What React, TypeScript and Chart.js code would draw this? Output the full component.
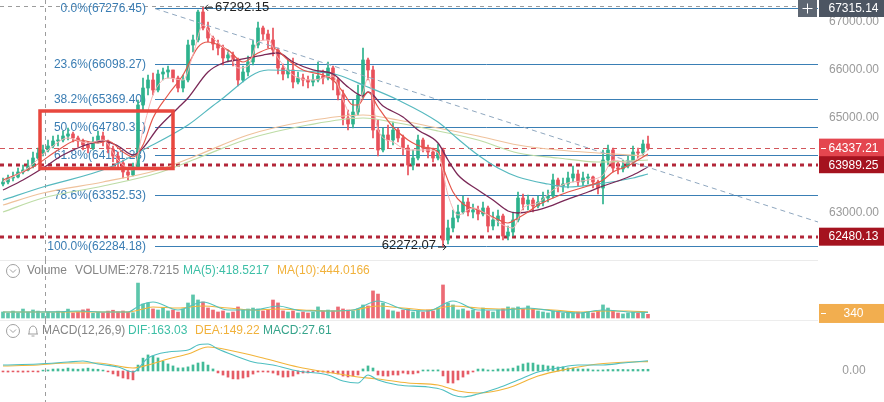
import React, { useEffect, useRef } from "react";
import { Chart, registerables } from "chart.js";

Chart.register(...registerables);

const FONT = '"Liberation Sans", Arial, Helvetica, sans-serif';

// ================= DATA =================
const firstOpen = 63585;
const closes = [
  63627, 63711, 63732, 63837, 63879, 63962, 64130, 64235, 64298, 64382,
  64487, 64508, 64592, 64634, 64550, 64487, 64403, 64340, 64466, 64592,
  64487, 64319, 64172, 64025, 63837, 63774, 63941, 65242, 65598, 65766,
  65556, 65892, 65934, 65976, 65808, 65598, 65766, 66500, 66605, 67192,
  66857, 66647, 66521, 66437, 66228, 66290, 66186, 65766, 65934, 66144,
  66500, 66857, 66731, 66605, 66395, 66018, 65892, 65976, 65724, 65808,
  65766, 65724, 65766, 65850, 65808, 66018, 65766, 65452, 64969, 64843,
  65095, 65452, 66186, 65976, 64717, 64298, 64613, 64508, 64717, 64550,
  64340, 63983, 64130, 64508, 64340, 64256, 64130, 64298, 62410, 62662,
  62872, 62998, 63207, 62998, 63040, 62956, 63082, 62704, 62830, 62914,
  62494, 62578, 62830, 63291, 63165, 63249, 63124, 63207, 63291, 63333,
  63669, 63543, 63585, 63711, 63795, 63627, 63711, 63732, 63627, 63501,
  64088, 64298, 63920, 63900, 63962, 64046, 64256, 64235, 64424, 64337.21,
];
const highs = [
  63711, 63774, 63837, 63920, 63983, 64088, 64256, 64340, 64403, 64508,
  64592, 64613, 64696, 64759, 64676, 64592, 64529, 64466, 64571, 64696,
  64676, 64508, 64382, 64256, 64088, 63920, 64025, 65347, 65808, 65871,
  65913, 65976, 66018, 66060, 65976, 65850, 65871, 66605, 66710, 67234,
  67292.15, 66983, 66689, 66605, 66500, 66395, 66353, 66228, 66060, 66269,
  66605, 66983, 66899, 66815, 66857, 66437, 66102, 66186, 66228, 65934,
  65892, 65850, 65892, 66144, 65976, 66144, 66060, 65808, 65556, 65137,
  65347, 65661, 66437, 66228, 66060, 64927, 64759, 64822, 64885, 64759,
  64613, 64403, 64298, 64613, 64550, 64403, 64340, 64424, 64340, 62830,
  63040, 63144, 63333, 63291, 63165, 63124, 63207, 63124, 62998, 63040,
  62956, 62704, 62998, 63417, 63375, 63354, 63291, 63333, 63417, 63459,
  63795, 63711, 63711, 63837, 63962, 63879, 63837, 63795, 63753, 63669,
  64298, 64403, 64340, 64046, 64088, 64172, 64382, 64340, 64508, 64592,
];
const lows = [
  63543, 63585, 63648, 63711, 63795, 63858, 63920, 64088, 64172, 64256,
  64340, 64382, 64466, 64508, 64466, 64361, 64298, 64235, 64298, 64445,
  64382, 64235, 64046, 63920, 63711, 63669, 63753, 63900, 65137, 65452,
  65452, 65514, 65766, 65808, 65724, 65514, 65514, 65724, 66353, 66563,
  66815, 66563, 66395, 66290, 66081, 66144, 66060, 65640, 65724, 65850,
  66081, 66437, 66605, 66437, 66269, 65892, 65766, 65808, 65598, 65682,
  65640, 65598, 65640, 65724, 65682, 65766, 65556, 65347, 64822, 64717,
  64759, 65032, 65389, 65766, 64550, 64172, 64256, 64340, 64403, 64466,
  64193, 63774, 63879, 64088, 64256, 64130, 64046, 64088, 62272.07, 62327,
  62578, 62788, 62956, 62914, 62872, 62830, 62914, 62578, 62620, 62704,
  62410, 62410, 62494, 62788, 63040, 63040, 62998, 63082, 63124, 63207,
  63291, 63417, 63417, 63501, 63627, 63543, 63543, 63585, 63501, 63375,
  63165, 63983, 63837, 63795, 63837, 63920, 64004, 64130, 64172, 64298,
];
const volumes = [
  452, 378, 521, 396, 672, 447, 603, 518, 372, 455,
  398, 512, 436, 668, 381, 447, 611, 676, 364, 433,
  402, 519, 584, 468, 528, 451, 396, 2620, 1048, 1132,
  679, 598, 752, 531, 604, 446, 681, 1127, 1731, 1352,
  1198, 754, 597, 452, 529, 377, 451, 829, 603, 676,
  748, 682, 527, 601, 1349, 1131, 534, 449, 528, 382,
  451, 376, 447, 832, 526, 598, 531, 828, 679, 602,
  528, 681, 977, 902, 2031, 1796, 1128, 601, 532, 449,
  598, 683, 451, 527, 448, 602, 531, 751, 2478, 1127,
  978, 603, 679, 528, 601, 452, 748, 533, 447, 602,
  681, 829, 752, 831, 677, 902, 681, 529, 451, 379,
  531, 448, 381, 452, 377, 449, 383, 452, 378, 527,
  981, 748, 531, 377, 302, 381, 449, 378, 452, 278.7215,
];
const macdHist = [
  -15, -17, -14, -16, -18, -15, -13, -16, 14, 17,
  31, 34, 30, 47, 33, 29, 35, 46, 31, 28,
  15, -14, -47, -81, -112, -127, -142, 95, 206, 257,
  241, 209, 158, 113, 81, 49, 51, 66, 97, 128,
  143, 95, 33, -31, -65, -98, -126, -129, -113, -95,
  -49, -17, -15, -18, -33, -64, -97, -95, -81, -47,
  -32, -31, -16, -15, -17, -33, -31, -48, -81, -96,
  -79, -63, 33, 81, 48, -64, -79, -82, -63, -65,
  -33, -48, -47, -31, 16, 17, 15, 18, -79, -191,
  -193, -143, -97, -49, -16, 31, 33, 17, 15, 32,
  31, 34, 47, 81, 112, 129, 127, 97, 95, 81,
  79, 64, 66, 48, 47, 33, 31, 32, 17, 16,
  18, 24, 23, 25, 24, 22, 25, 24, 26, 27.61,
];

// moving averages: [candle index, value]
const maFast = [[0,63627],[5,63920],[9,64298],[13,64550],[17,64445],[20,64508],[23,64088],[26,63879],[28,64717],[30,65452],[33,65808],[36,65766],[38,66290],[40,66920],[42,66647],[45,66353],[47,66018],[49,66060],[51,66563],[53,66605],[55,66228],[58,65871],[62,65766],[66,65850],[68,65347],[70,64969],[72,65514],[73,65808],[75,64717],[78,64466],[81,64298],[85,64298],[87,64235],[89,63354],[91,62935],[94,63082],[97,62935],[100,62725],[102,62662],[104,63082],[107,63186],[110,63459],[113,63606],[117,63669],[120,63774],[122,64088],[125,64025],[129,64298]];
const maRed = [[0,63669],[6,63941],[11,64298],[15,64508],[19,64445],[21,64487],[24,64256],[26,64151],[28,64403],[30,64969],[33,65452],[36,65871],[39,66458],[41,66563],[45,66395],[48,66144],[51,66332],[54,66437],[57,66186],[60,65976],[64,65871],[66,65766],[68,65514],[70,65242],[71,65242],[73,65514],[75,65200],[78,64780],[81,64508],[84,64361],[87,64256],[88,63941],[90,63417],[92,63165],[95,63040],[98,62893],[101,62767],[103,62872],[105,62998],[107,63144],[110,63291],[113,63417],[117,63543],[120,63669],[122,63837],[125,63962],[127,64088],[129,64214]];
const maPurple = [[0,63459],[4,63669],[8,63920],[12,64193],[16,64382],[20,64487],[23,64382],[26,64193],[28,64340],[31,64759],[35,65179],[37,65389],[41,65934],[44,66123],[48,66207],[52,66290],[55,66332],[58,66144],[62,65976],[66,65892],[69,65619],[72,65431],[73,65514],[76,65221],[80,64990],[83,64717],[87,64445],[89,64088],[91,63774],[95,63459],[98,63249],[101,63019],[103,62977],[106,63019],[110,63144],[113,63270],[117,63417],[120,63543],[123,63648],[126,63774],[129,63941]];
const maTeal = [[0,63249],[8,63522],[21,63920],[28,64298],[37,64822],[43,65305],[53,65976],[63,65934],[67,65871],[72,65661],[79,65347],[87,64885],[91,64529],[95,64193],[99,63920],[103,63732],[109,63585],[113,63522],[119,63585],[126,63711],[129,63795]];
const maBeige = [[0,63144],[8,63396],[20,63627],[31,63879],[39,64193],[49,64613],[61,64906],[72,65032],[79,64927],[87,64759],[95,64592],[103,64403],[111,64298],[119,64235],[129,64172]];
const maGreen = [[0,62998],[8,63291],[20,63543],[31,63816],[39,64130],[49,64529],[61,64822],[72,64969],[79,64864],[87,64697],[95,64508],[103,64235],[111,64130],[119,64046],[129,64088]];

const volMa5 = [[0,450],[5,455],[10,460],[15,520],[20,450],[25,455],[27,870],[28,1050],[30,1200],[35,600],[40,1200],[45,600],[50,600],[55,900],[60,525],[65,525],[70,600],[75,1275],[80,675],[85,525],[90,1275],[95,600],[100,600],[105,750],[110,525],[115,375],[120,600],[125,450],[129,418.5217]];
const volMa10 = [[0,450],[5,450],[10,455],[15,460],[20,455],[25,450],[28,675],[30,825],[35,750],[40,900],[45,750],[50,600],[55,675],[60,600],[65,525],[70,600],[75,900],[80,750],[85,600],[90,900],[95,750],[100,675],[105,675],[110,600],[115,450],[120,525],[125,525],[129,444.0166]];

const difLine = [[0,96],[7,112],[13,144],[16,160],[19,112],[23,64],[26,-16],[29,208],[33,304],[37,336],[39,416],[41,432],[43,352],[46,256],[50,144],[54,96],[59,0],[65,-64],[68,-160],[71,-192],[73,-64],[75,-144],[79,-224],[85,-256],[88,-304],[90,-384],[92,-416],[95,-368],[99,-272],[103,-144],[107,-16],[111,48],[115,96],[120,96],[124,128],[129,163.03]];
const deaLine = [[0,80],[7,96],[13,128],[19,128],[26,48],[29,96],[33,192],[37,272],[41,384],[46,320],[52,208],[59,64],[66,-32],[71,-96],[75,-128],[81,-192],[87,-224],[91,-320],[95,-352],[101,-272],[107,-80],[113,32],[119,112],[125,144],[129,149.22]];

const fibRatios = ["0.0%", "23.6%", "38.2%", "50.0%", "61.8%", "78.6%", "100.0%"];
const fibValues = [67276.45, 66098.27, 65369.4, 64780.31, 64191.23, 63352.53, 62284.18];
const fibStartIndex = 30.4;
const priceTicks = [67000, 66000, 65000, 64000, 63000];
const lastPrice = 64337.21;
const supportLevels = [63989.25, 62480.13];
const crosshairPrice = 67315.14;
const crosshairIndex = 8.4;
const trendLine = [[30.4, 67264], [163, 62788]];
const highMark = { index: 40, value: 67292.15 };
const lowMark = { index: 88, value: 62272.07 };
const boxRegion = { from: 7.4, to: 34, top: 65116, bottom: 63910 };
const volumeHeader = { volume: 278.7215, ma5: 418.5217, ma10: 444.0166 };
const volumeMarker = 340;
const macdHeader = { dif: 163.03, dea: 149.22, macd: 27.61 };

// ================= STYLE / LAYOUT =================
const X_MIN = -0.6;
const X_MAX = 163;
const UP = "#2db28d";
const DOWN = "#e8505a";
const VOL_UP = "#5cc6ab";
const VOL_DOWN = "#ec6b75";
const TEAL_TXT = "#3dbfa6";
const ORANGE = "#f1b23c";

const opens = closes.map((c, i) => (i === 0 ? firstOpen : closes[i - 1]));
const upFlags = closes.map((c, i) => c >= opens[i]);

const toPts = (arr: number[][]) => arr.map(([x, y]) => ({ x, y }));

function lineDs(data: number[][], color: string, order: number, width = 1.2, dash: number[] = []): any {
  return {
    type: "line",
    data: toPts(data),
    borderColor: color,
    borderWidth: width,
    borderDash: dash,
    pointRadius: 0,
    pointHoverRadius: 0,
    fill: false,
    cubicInterpolationMode: "monotone",
    order,
  };
}

function baseOptions(ymin: number, ymax: number, padBottom: number): any {
  return {
    responsive: false,
    maintainAspectRatio: false,
    animation: false,
    devicePixelRatio: 1,
    events: [],
    layout: { padding: { left: 0, right: 66, top: 0, bottom: padBottom } },
    plugins: { legend: { display: false }, tooltip: { enabled: false } },
    scales: {
      x: { type: "linear", min: X_MIN, max: X_MAX, offset: false, bounds: "ticks", grace: 0, display: false },
      y: { type: "linear", min: ymin, max: ymax, display: false },
    },
  };
}

function crossV(chart: any, bottom: number) {
  const { ctx, scales } = chart;
  const px = Math.round(scales.x.getPixelForValue(crosshairIndex)) + 0.5;
  ctx.save();
  ctx.strokeStyle = "#9c9c9c";
  ctx.lineWidth = 1;
  ctx.setLineDash([4, 4]);
  ctx.beginPath();
  ctx.moveTo(px, 0);
  ctx.lineTo(px, bottom);
  ctx.stroke();
  ctx.restore();
}

function labelBox(ctx: any, x0: number, x1: number, cy: number, h: number, bg: string, text: string, tick: boolean) {
  let top = cy - h / 2;
  if (top < 0) top = 0;
  ctx.fillStyle = bg;
  ctx.fillRect(x0, top, x1 - x0, h);
  if (tick) {
    ctx.strokeStyle = "#ffffff";
    ctx.lineWidth = 1;
    ctx.setLineDash([]);
    ctx.beginPath();
    ctx.moveTo(x0 + 2, Math.round(top + h / 2) + 0.5);
    ctx.lineTo(x0 + 7, Math.round(top + h / 2) + 0.5);
    ctx.stroke();
  }
  ctx.fillStyle = "#ffffff";
  ctx.font = `12px ${FONT}`;
  ctx.textAlign = "center";
  ctx.textBaseline = "middle";
  ctx.fillText(text, (x0 + x1) / 2 + 2, top + h / 2 + 0.5);
}

function circleChevron(ctx: any, cx: number, cy: number) {
  ctx.strokeStyle = "#a0a0a0";
  ctx.lineWidth = 1;
  ctx.setLineDash([]);
  ctx.beginPath();
  ctx.arc(cx, cy, 6.5, 0, Math.PI * 2);
  ctx.stroke();
  ctx.beginPath();
  ctx.moveTo(cx - 3, cy - 1.5);
  ctx.lineTo(cx, cy + 1.5);
  ctx.lineTo(cx + 3, cy - 1.5);
  ctx.stroke();
}

function bell(ctx: any, cx: number, cy: number) {
  ctx.strokeStyle = "#a0a0a0";
  ctx.lineWidth = 1;
  ctx.beginPath();
  ctx.moveTo(cx - 5, cy + 3);
  ctx.lineTo(cx + 5, cy + 3);
  ctx.moveTo(cx - 4, cy + 3);
  ctx.quadraticCurveTo(cx - 4, cy - 5, cx, cy - 5);
  ctx.quadraticCurveTo(cx + 4, cy - 5, cx + 4, cy + 3);
  ctx.moveTo(cx - 1.5, cy + 5);
  ctx.lineTo(cx + 1.5, cy + 5);
  ctx.stroke();
}

const pricePlugin: any = {
  id: "priceOverlay",
  beforeDatasetsDraw(chart: any) {
    const { ctx, chartArea: ca, scales } = chart;
    const x = scales.x;
    const y = scales.y;
    ctx.save();
    // horizontal crosshair
    const cy = Math.round(y.getPixelForValue(crosshairPrice)) + 0.5;
    ctx.strokeStyle = "#9c9c9c";
    ctx.lineWidth = 1;
    ctx.setLineDash([4, 4]);
    ctx.beginPath();
    ctx.moveTo(0, cy);
    ctx.lineTo(ca.right - 20, cy);
    ctx.stroke();
    // fibonacci levels
    const fx = x.getPixelForValue(fibStartIndex);
    ctx.font = `12px ${FONT}`;
    fibValues.forEach((v, k) => {
      const py = Math.round(y.getPixelForValue(v)) + 0.5;
      ctx.setLineDash([]);
      ctx.strokeStyle = "#3a7fb5";
      ctx.lineWidth = 1;
      ctx.beginPath();
      ctx.moveTo(fx, py);
      ctx.lineTo(ca.right, py);
      ctx.stroke();
      ctx.fillStyle = "#3a7db3";
      ctx.textAlign = "right";
      ctx.textBaseline = "middle";
      ctx.fillText(`${fibRatios[k]}(${v.toFixed(2)})`, fx - 9, py);
    });
    // last price dashed line
    const lp = Math.round(y.getPixelForValue(lastPrice)) + 0.5;
    ctx.strokeStyle = "#d2555a";
    ctx.lineWidth = 1;
    ctx.setLineDash([5, 4]);
    ctx.beginPath();
    ctx.moveTo(0, lp);
    ctx.lineTo(ca.right, lp);
    ctx.stroke();
    // support dotted lines
    supportLevels.forEach((v) => {
      const py = Math.round(y.getPixelForValue(v));
      ctx.strokeStyle = "#b3273a";
      ctx.lineWidth = 3;
      ctx.setLineDash([4, 4]);
      ctx.beginPath();
      ctx.moveTo(0, py);
      ctx.lineTo(ca.right, py);
      ctx.stroke();
    });
    ctx.restore();
    crossV(chart, ca.bottom);
  },
  afterDatasetsDraw(chart: any) {
    const { ctx, scales } = chart;
    const x = scales.x;
    const y = scales.y;
    ctx.save();
    // highlighted box
    const bx0 = x.getPixelForValue(boxRegion.from);
    const bx1 = x.getPixelForValue(boxRegion.to);
    const by0 = y.getPixelForValue(boxRegion.top);
    const by1 = y.getPixelForValue(boxRegion.bottom);
    ctx.strokeStyle = "#e8473e";
    ctx.lineWidth = 3.5;
    ctx.setLineDash([]);
    ctx.strokeRect(bx0, by0, bx1 - bx0, by1 - by0);
    // high marker
    ctx.font = `13px ${FONT}`;
    ctx.fillStyle = "#222";
    ctx.strokeStyle = "#222";
    ctx.lineWidth = 1;
    const hx = x.getPixelForValue(highMark.index) + 2;
    const hy = Math.max(7, y.getPixelForValue(highMark.value));
    ctx.beginPath();
    ctx.moveTo(hx, hy + 0.5);
    ctx.lineTo(hx + 8, hy + 0.5);
    ctx.moveTo(hx, hy + 0.5);
    ctx.lineTo(hx + 3, hy - 2.5);
    ctx.moveTo(hx, hy + 0.5);
    ctx.lineTo(hx + 3, hy + 3.5);
    ctx.stroke();
    ctx.textAlign = "left";
    ctx.textBaseline = "middle";
    ctx.fillText(highMark.value.toFixed(2), hx + 10, hy);
    // low marker
    const lx = x.getPixelForValue(lowMark.index) + 3;
    const ly = Math.min(y.getPixelForValue(lowMark.value), 247);
    ctx.beginPath();
    ctx.moveTo(lx - 8, ly + 0.5);
    ctx.lineTo(lx, ly + 0.5);
    ctx.lineTo(lx - 3, ly - 2.5);
    ctx.moveTo(lx, ly + 0.5);
    ctx.lineTo(lx - 3, ly + 3.5);
    ctx.stroke();
    ctx.textAlign = "right";
    ctx.fillText(lowMark.value.toFixed(2), lx - 10, ly - 1);
    ctx.restore();
  },
  afterDraw(chart: any) {
    const { ctx, chartArea: ca, scales } = chart;
    const y = scales.y;
    const W = chart.width;
    ctx.save();
    ctx.font = `12px ${FONT}`;
    ctx.textAlign = "center";
    ctx.textBaseline = "middle";
    ctx.fillStyle = "#9a9a9a";
    const cx = ca.right + 36;
    priceTicks.forEach((v) => ctx.fillText(v.toFixed(2), cx, y.getPixelForValue(v) + 1));
    // boxes
    labelBox(ctx, ca.right + 1, W, y.getPixelForValue(lastPrice), 19, "#e4464f", lastPrice.toFixed(2), true);
    labelBox(ctx, ca.right + 1, W, y.getPixelForValue(supportLevels[0]), 17, "#a5131f", supportLevels[0].toFixed(2), false);
    labelBox(ctx, ca.right + 1, W, y.getPixelForValue(supportLevels[1]), 18, "#a5131f", supportLevels[1].toFixed(2), false);
    labelBox(ctx, ca.right + 1, W, y.getPixelForValue(crosshairPrice), 17, "#4c5562", crosshairPrice.toFixed(2), false);
    // plus button
    const top = Math.max(0, y.getPixelForValue(crosshairPrice) - 8.5);
    ctx.fillStyle = "#5d6672";
    ctx.fillRect(ca.right - 20, top, 19, 17);
    ctx.strokeStyle = "#ffffff";
    ctx.lineWidth = 1;
    ctx.beginPath();
    ctx.moveTo(ca.right - 15.5, top + 8.5);
    ctx.lineTo(ca.right - 5.5, top + 8.5);
    ctx.moveTo(ca.right - 10.5, top + 3.5);
    ctx.lineTo(ca.right - 10.5, top + 13.5);
    ctx.stroke();
    ctx.restore();
  },
};

const volumePlugin: any = {
  id: "volumeOverlay",
  beforeDatasetsDraw(chart: any) {
    const { ctx, chartArea: ca } = chart;
    ctx.save();
    ctx.strokeStyle = "#ebebeb";
    ctx.lineWidth = 1;
    ctx.beginPath();
    ctx.moveTo(0, 0.5);
    ctx.lineTo(ca.right, 0.5);
    ctx.stroke();
    ctx.restore();
    crossV(chart, ca.bottom);
  },
  afterDraw(chart: any) {
    const { ctx, chartArea: ca, scales } = chart;
    ctx.save();
    circleChevron(ctx, 13, 11);
    ctx.font = `12px ${FONT}`;
    ctx.textAlign = "left";
    ctx.textBaseline = "middle";
    ctx.fillStyle = "#858585";
    ctx.fillText("Volume", 27, 11);
    ctx.fillText(`VOLUME:${volumeHeader.volume.toFixed(4)}`, 75, 11);
    ctx.fillStyle = TEAL_TXT;
    ctx.fillText(`MA(5):${volumeHeader.ma5.toFixed(4)}`, 183, 11);
    ctx.fillStyle = ORANGE;
    ctx.fillText(`MA(10):${volumeHeader.ma10.toFixed(4)}`, 277, 11);
    labelBox(ctx, ca.right + 1, chart.width, scales.y.getPixelForValue(volumeMarker), 19, "#f2ae4f", String(volumeMarker), true);
    ctx.restore();
  },
};

const macdPlugin: any = {
  id: "macdOverlay",
  beforeDatasetsDraw(chart: any) {
    const { ctx, chartArea: ca } = chart;
    ctx.save();
    ctx.strokeStyle = "#ededed";
    ctx.lineWidth = 1;
    ctx.beginPath();
    ctx.moveTo(0, 0.5);
    ctx.lineTo(ca.right, 0.5);
    ctx.stroke();
    ctx.restore();
    crossV(chart, ca.bottom);
  },
  afterDraw(chart: any) {
    const { ctx, chartArea: ca, scales } = chart;
    ctx.save();
    circleChevron(ctx, 13, 11);
    bell(ctx, 33, 11);
    ctx.font = `12px ${FONT}`;
    ctx.textAlign = "left";
    ctx.textBaseline = "middle";
    ctx.fillStyle = "#858585";
    ctx.fillText("MACD(12,26,9)", 42, 11);
    ctx.fillStyle = TEAL_TXT;
    ctx.fillText(`DIF:${macdHeader.dif.toFixed(2)}`, 128, 11);
    ctx.fillStyle = ORANGE;
    ctx.fillText(`DEA:${macdHeader.dea.toFixed(2)}`, 195, 11);
    ctx.fillStyle = "#36a48b";
    ctx.fillText(`MACD:${macdHeader.macd.toFixed(2)}`, 263, 11);
    ctx.fillStyle = "#9a9a9a";
    ctx.textAlign = "center";
    ctx.fillText((0).toFixed(2), ca.right + 36, scales.y.getPixelForValue(0));
    ctx.restore();
  },
};

function priceConfig(): any {
  const colors = upFlags.map((u) => (u ? UP : DOWN));
  return {
    type: "bar",
    data: {
      datasets: [
        lineDs(trendLine, "#8fa7bf", 0, 1, [5, 4]),
        lineDs(maFast, "#f4b3b3", 1, 1),
        lineDs(maRed, "#e4564b", 2, 1.2),
        lineDs(maPurple, "#7a2857", 3, 1.3),
        lineDs(maTeal, "#56b9bf", 4, 1.2),
        lineDs(maBeige, "#efc29c", 5, 1.2),
        lineDs(maGreen, "#bddca5", 6, 1.2),
        {
          type: "bar",
          data: closes.map((c, i) => ({ x: i, y: [Math.min(opens[i], c), Math.max(opens[i], c)] })),
          backgroundColor: colors,
          barThickness: 3,
          minBarLength: 1,
          grouped: false,
          borderWidth: 0,
          order: 10,
        },
        {
          type: "bar",
          data: closes.map((c, i) => ({ x: i, y: [lows[i], highs[i]] })),
          backgroundColor: colors,
          barThickness: 1,
          grouped: false,
          borderWidth: 0,
          order: 11,
        },
      ],
    },
    options: baseOptions(61991, 67444, 0),
    plugins: [pricePlugin],
  };
}

function volumeConfig(): any {
  return {
    type: "bar",
    data: {
      datasets: [
        lineDs(volMa5, "#52c3bb", 0, 1.1),
        lineDs(volMa10, "#f2b43c", 1, 1.1),
        {
          type: "bar",
          data: volumes.map((v, i) => ({ x: i, y: [0, v] })),
          backgroundColor: upFlags.map((u) => (u ? VOL_UP : VOL_DOWN)),
          barThickness: 3,
          grouped: false,
          borderWidth: 0,
          order: 10,
        },
      ],
    },
    options: baseOptions(-150, 4350, 6),
    plugins: [volumePlugin],
  };
}

function macdConfig(): any {
  return {
    type: "bar",
    data: {
      datasets: [
        lineDs(difLine, "#4fbfc1", 0, 1.1),
        lineDs(deaLine, "#f2b43a", 1, 1.1),
        {
          type: "bar",
          data: macdHist.map((v, i) => ({ x: i, y: [0, v] })),
          backgroundColor: macdHist.map((v) => (v >= 0 ? "#43bb98" : "#e55c66")),
          barThickness: 2,
          grouped: false,
          borderWidth: 0,
          order: 10,
        },
      ],
    },
    options: baseOptions(-496, 816, 0),
    plugins: [macdPlugin],
  };
}

export default function App() {
  const priceRef = useRef<HTMLCanvasElement>(null);
  const volRef = useRef<HTMLCanvasElement>(null);
  const macdRef = useRef<HTMLCanvasElement>(null);

  useEffect(() => {
    document.body.style.margin = "0";
    const charts = [
      new Chart(priceRef.current as HTMLCanvasElement, priceConfig()),
      new Chart(volRef.current as HTMLCanvasElement, volumeConfig()),
      new Chart(macdRef.current as HTMLCanvasElement, macdConfig()),
    ];
    return () => charts.forEach((c) => c.destroy());
  }, []);

  return (
    <div style={{ position: "relative", width: 884, height: 402, background: "#ffffff", overflow: "hidden" }}>
      <canvas ref={priceRef} width={884} height={260} style={{ position: "absolute", left: 0, top: 0, display: "block" }} />
      <canvas ref={volRef} width={884} height={66} style={{ position: "absolute", left: 0, top: 260, display: "block" }} />
      <canvas ref={macdRef} width={884} height={82} style={{ position: "absolute", left: 0, top: 320, display: "block" }} />
    </div>
  );
}
